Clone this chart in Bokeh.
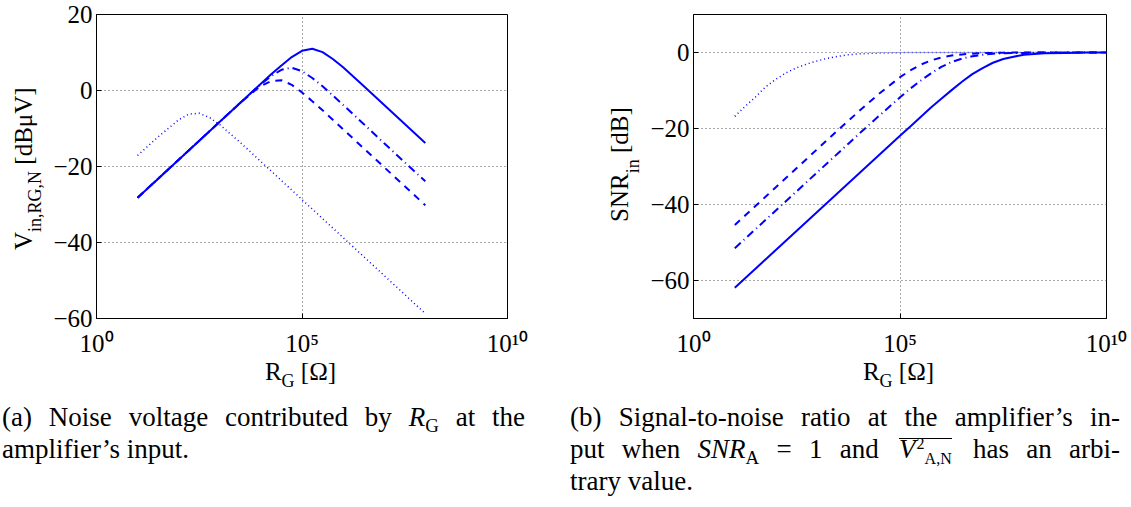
from bokeh.plotting import figure
from bokeh.models import Range1d, FixedTicker, Div, CustomJSTickFormatter
from bokeh.layouts import column, row
from bokeh.embed import file_html
from bokeh.resources import INLINE

# ---------------- data ----------------
# (a) noise voltage, exponents of R_G (10^e ohm)
rg_exp_a = [1, 1.5, 2, 2.25, 2.5, 2.75, 3, 3.5, 3.75, 4, 4.25, 4.5, 4.75, 5,
            5.25, 5.5, 5.75, 6, 6.5, 7, 7.5, 8]
vin_solid = [-28.2, -23.2, -18.2, -15.7, -13.2, -10.7, -8.2, -3.2, -0.7, 1.8, 4.25,
             6.6, 8.8, 10.45, 11.0, 10.1, 8.3, 6.1, 1.2, -3.8, -8.8, -13.8]
vin_dashdot = [-28.2, -23.2, -18.2, -15.7, -13.2, -10.7, -8.2, -3.2, -0.75, 1.65, 3.8,
               5.45, 6.0, 5.1, 3.3, 1.1, -1.3, -3.8, -8.8, -13.9, -18.9, -23.9]
vin_dashed = [-28.2, -23.2, -18.2, -15.7, -13.2, -10.7, -8.2, -3.3, -0.9, 1.2, 2.5,
              2.7, 1.5, -0.5, -2.8, -5.2, -7.7, -10.2, -15.2, -20.2, -25.2, -30.2]
vin_dotted = [-17.1, -12.2, -7.7, -6.2, -6.0, -7.1, -9.0, -13.7, -16.2, -18.7, -21.2,
              -23.7, -26.2, -28.7, -31.2, -33.7, -36.2, -38.7, -43.7, -48.7, -53.7, -58.7]

# (b) SNR at the input
rg_exp_b = [1, 1.25, 1.5, 1.75, 2, 2.25, 2.5, 2.75, 3, 3.25, 3.5, 3.75, 4, 4.5, 5,
            5.25, 5.5, 5.75, 6, 6.25, 6.5, 6.75, 7, 7.25, 7.5, 7.75, 8, 8.5, 9, 9.5, 10]
snr_solid = [-61.9, -59.4, -56.9, -54.4, -51.9, -49.4, -46.9, -44.4, -41.9, -39.4, -36.9,
             -34.4, -31.9, -26.9, -21.9, -19.5, -17.0, -14.5, -12.2, -9.9, -7.7, -5.7,
             -4.1, -2.7, -1.7, -1.1, -0.6, -0.2, -0.1, 0.0, 0.0]
snr_dashdot = [-51.5, -49.0, -46.5, -44.0, -41.5, -39.0, -36.5, -34.0, -31.5, -29.0, -26.5,
               -24.0, -21.5, -16.6, -11.8, -9.5, -7.4, -5.5, -3.8, -2.5, -1.6, -1.0,
               -0.6, -0.3, -0.2, -0.1, -0.1, 0.0, 0.0, 0.0, 0.0]
snr_dashed = [-45.4, -42.9, -40.4, -37.9, -35.4, -32.9, -30.4, -27.9, -25.4, -22.9, -20.4,
              -18.0, -15.5, -10.8, -6.5, -4.7, -3.2, -2.1, -1.3, -0.8, -0.5, -0.3,
              -0.15, -0.1, -0.05, -0.03, -0.02, 0.0, 0.0, 0.0, 0.0]
snr_dotted = [-16.8, -14.2, -11.7, -9.0, -7.0, -5.3, -4.0, -3.0, -2.2, -1.5, -1.0,
              -0.6, -0.35, -0.15, -0.05, 0.0, 0.0, 0.0, 0.0, 0.0, 0.0, 0.0,
              0.0, 0.0, 0.0, 0.0, 0.0, 0.0, 0.0, 0.0, 0.0]

x_ticks = [1, 1e5, 1e10]
y_ticks_a = [-60, -40, -20, 0, 20]
y_ticks_b = [-60, -40, -20, 0]

FONT = "Liberation Serif"
BLUE = "#0000ff"

X_FMT = """
const e = Math.round(Math.log10(tick));
const m = {"0":"\u2070","1":"\u00b9","2":"\u00b2","3":"\u00b3","4":"\u2074",
           "5":"\u2075","6":"\u2076","7":"\u2077","8":"\u2078","9":"\u2079"};
return "10" + String(e).split("").map(c => m[c]).join("");
"""
Y_FMT = """
return tick < 0 ? "\u2212" + Math.abs(tick) : String(tick);
"""

FIG_H = 14 + 304 + 38


def make_fig(bl, fw, br, yr, yticks):
    p = figure(frame_width=fw, frame_height=304, min_border_left=bl, min_border_right=br,
               min_border_top=14, min_border_bottom=38, x_axis_type="log",
               x_range=Range1d(1, 1e10), y_range=Range1d(*yr),
               output_backend="svg", toolbar_location=None)
    xt = FixedTicker(ticks=x_ticks)
    yt = FixedTicker(ticks=yticks)
    p.xaxis.ticker = xt
    p.yaxis.ticker = yt
    p.xgrid.ticker = xt
    p.ygrid.ticker = yt
    p.xaxis.formatter = CustomJSTickFormatter(code=X_FMT)
    p.yaxis.formatter = CustomJSTickFormatter(code=Y_FMT)
    for ax in (p.xaxis, p.yaxis):
        ax.major_label_text_font = FONT
        ax.major_label_text_font_size = "25px"
        ax.major_label_text_color = "black"
        ax.axis_line_color = "black"
        ax.major_tick_in = 5
        ax.major_tick_out = 0
        ax.minor_tick_in = 0
        ax.minor_tick_out = 0
        ax.major_tick_line_color = "black"
    p.xaxis.major_label_standoff = 11
    p.yaxis.major_label_standoff = 4
    for g in (p.xgrid, p.ygrid):
        g.grid_line_color = "#555555"
        g.grid_line_dash = "1 3"
        g.grid_line_width = 1
    p.outline_line_color = "black"
    p.outline_line_alpha = 1
    p.outline_line_width = 1
    p.background_fill_color = "white"
    p.border_fill_color = "white"
    return p


# ---------------- plot (a) ----------------
pa = make_fig(45, 411, 54, (-60, 20), y_ticks_a)
xa = [10 ** e for e in rg_exp_a]
pa.line(xa, vin_dashed, line_color=BLUE, line_width=2, line_dash="7 6")
pa.line(xa, vin_dashdot, line_color=BLUE, line_width=2, line_dash="8 4 1 4")
pa.line(xa, vin_solid, line_color=BLUE, line_width=2)
pa.line(xa, vin_dotted, line_color=BLUE, line_width=1.5, line_dash="1 3")

# ---------------- plot (b) ----------------
pb = make_fig(47, 413, 22, (-70, 10), y_ticks_b)
xb = [10 ** e for e in rg_exp_b]
pb.line(xb, snr_dashed, line_color=BLUE, line_width=2, line_dash="7 6")
pb.line(xb, snr_dashdot, line_color=BLUE, line_width=2, line_dash="8 4 1 4")
pb.line(xb, snr_solid, line_color=BLUE, line_width=2)
pb.line(xb, snr_dotted, line_color=BLUE, line_width=1.5, line_dash="1 3")

# ---------------- axis labels (HTML, with real subscripts) ----------------
TXT = f"font-family:'{FONT}';color:#000;white-space:nowrap;"


def ylabel_div(width, left, top, main, sub, sub_shift, unit):
    html = (f'<div style="position:relative;width:{width}px;height:{FIG_H}px;">'
            f'<div style="position:absolute;left:{left}px;top:{top}px;'
            f'transform-origin:0 0;transform:rotate(-90deg);{TXT}'
            f'font-size:25px;line-height:25px;">{main}'
            f'<span style="font-size:18px;position:relative;top:{sub_shift}px;">{sub}</span>'
            f'&nbsp;{unit}</div></div>')
    return Div(text=html, width=width, height=FIG_H, margin=(0, 0, 0, 0))


ya = ylabel_div(50, 11, 250, "V", "in,RG,N", 9, "[dB\u03bcV]")
yb = ylabel_div(85, 46, 222, "SNR", "in", 11, "[dB]")

XLAB = ('<div style="position:absolute;left:{l}px;top:0;width:200px;text-align:center;'
        + TXT + 'font-size:25px;line-height:25px;">R<span style="font-size:18px;'
        'position:relative;top:7px;">G</span>&nbsp;[\u03a9]</div>')

# ---------------- captions ----------------
SUB = '<span style="font-size:70%;position:relative;top:0.3em;line-height:0">{}</span>'
VBAR = ('<span style="display:inline-block;position:relative;line-height:27px;margin:0 4px 0 3px">'
        '<span style="position:absolute;left:0;right:0;top:2px;border-top:1.5px solid #000"></span>'
        '<i>V</i>'
        '<span style="font-size:16px;position:relative;top:-9px;line-height:0;margin-left:1px">2</span>'
        '<span style="font-size:16px;position:relative;top:6px;line-height:0">A,N</span>'
        '</span>')

cap_a = ["(a) Noise voltage contributed by <i>R</i>" + SUB.format("G") + " at the",
         "amplifier\u2019s input."]
cap_b = ["(b) Signal-to-noise ratio at the amplifier\u2019s in-",
         "put when <i>SNR</i>" + SUB.format("A") + " = 1 and " + VBAR + " has an arbi-",
         "trary value."]


def block(lines, left, top, width):
    inner = ""
    for i, t in enumerate(lines):
        just = "text-align:justify;text-align-last:justify;" if i < len(lines) - 1 else ""
        inner += f'<div style="{just}height:32px;">{t}</div>'
    return (f'<div style="position:absolute;left:{left}px;top:{top}px;width:{width}px;'
            f"font-family:'{FONT}';font-size:27px;line-height:32px;color:#000;\">"
            f'{inner}</div>')


BOT_H = 146
html = (f'<div style="position:relative;width:1127px;height:{BOT_H}px;">'
        + XLAB.format(l=200.5) + XLAB.format(l=798.5)
        + block(cap_a, 2, 42, 523) + block(cap_b, 570, 42, 550) + '</div>')
bottom = Div(text=html, width=1127, height=BOT_H, margin=(0, 0, 0, 0))

layout = column(row(ya, pa, yb, pb), bottom)
open("out.html", "w").write(file_html(layout, INLINE))
